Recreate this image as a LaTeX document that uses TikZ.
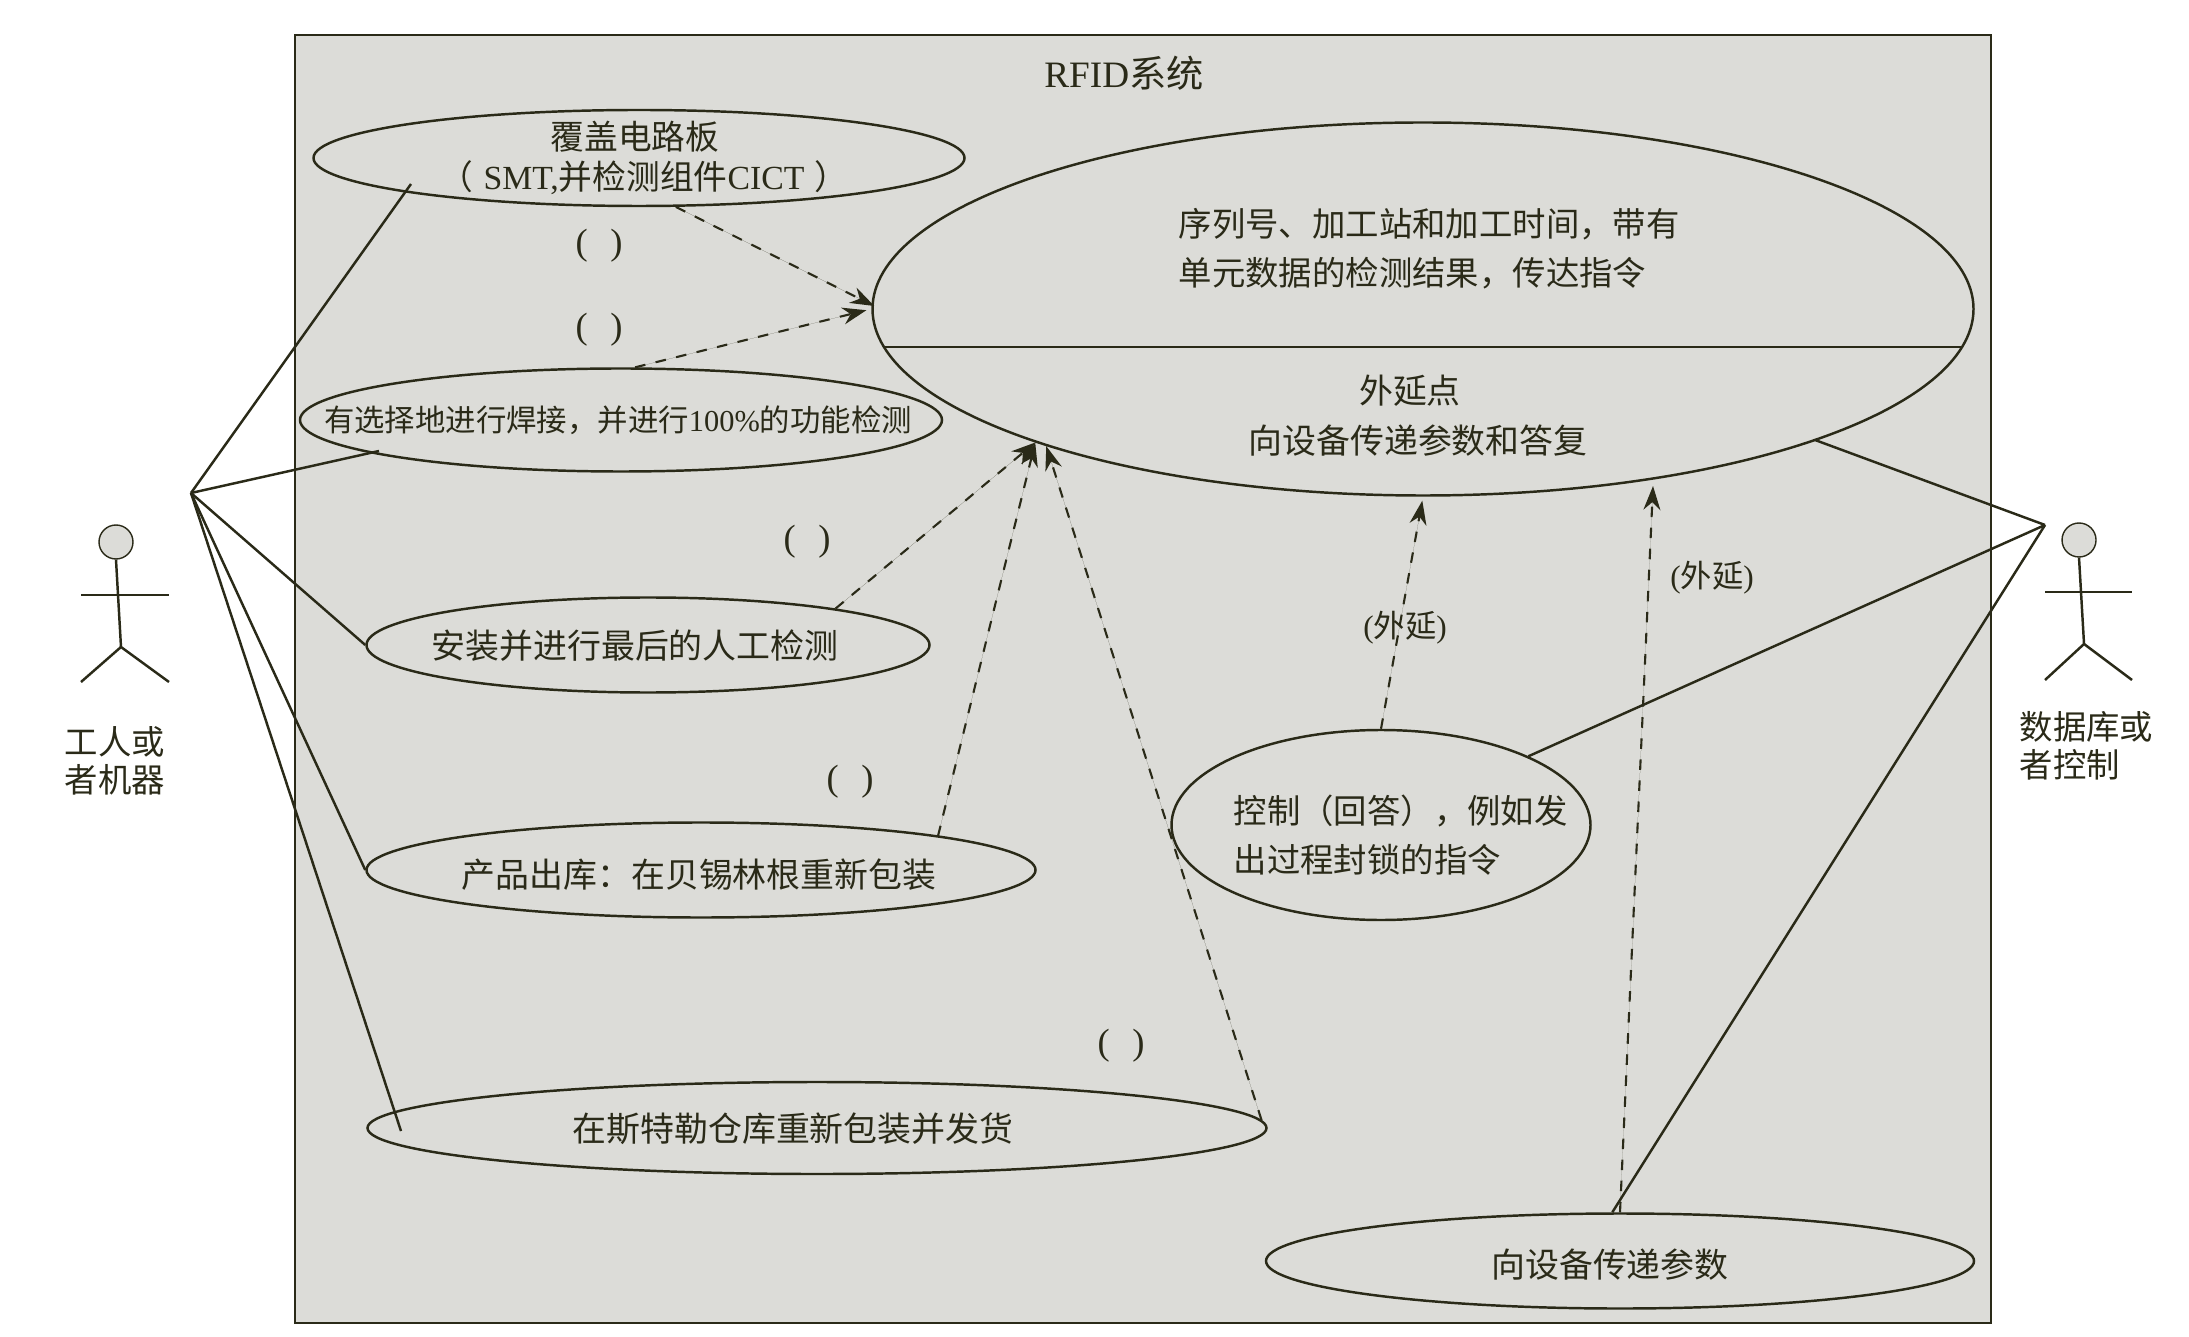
\documentclass[tikz,border=0pt]{standalone}
\usepackage{fontspec}
\setmainfont{Noto Sans CJK SC}
\newfontfamily\latinfont{Liberation Serif}
\usetikzlibrary{positioning,arrows.meta,shapes.geometric,calc}
\definecolor{sysG}{HTML}{DCDCD8}
\definecolor{inkD}{HTML}{2A2A18}
\newcommand{\blankpar}{{\latinfont\fontsize{10.4}{12}\selectfont(\hspace{0.62em})}}

\begin{document}
\begin{tikzpicture}[
  every node/.style={font=\fontsize{9.65}{14}\selectfont, text=inkD},
  usecase/.style={ellipse, draw=inkD, line width=0.7pt, inner sep=0pt},
  txt/.style={inner sep=0pt, align=left},
  actorhead/.style={circle, draw=inkD, thin, fill=sysG, minimum size=0.34cm, inner sep=0pt},
  line/.style={draw=inkD, line width=0.7pt},
  arr/.style={-{Stealth[length=2.4mm, width=1.7mm]}, draw=inkD, fill=inkD, line width=0.6pt, dashed}
]
  \useasboundingbox (0,0) rectangle (21.89,13.36);
  \draw[inkD, line width=0.7pt, fill=sysG] (2.95,0.13) rectangle (19.91,13.01);
  \node[txt, font=\fontsize{10.6}{14}\selectfont] (title) at (11.24,12.63) {{\latinfont RFID}系统};

  % use cases
  \node[usecase, minimum width=6.51cm, minimum height=0.96cm] (cover) at (6.39,11.78) {};
  \node[usecase, minimum width=6.42cm, minimum height=1.03cm] (solder) at (6.21,9.16) {};
  \node[usecase, minimum width=5.63cm, minimum height=0.95cm] (mount) at (6.48,6.91) {};
  \node[usecase, minimum width=6.69cm, minimum height=0.95cm] (outbound) at (7.01,4.66) {};
  \node[usecase, minimum width=8.99cm, minimum height=0.92cm] (ship) at (8.17,2.08) {};
  \node[usecase, minimum width=11.01cm, minimum height=3.73cm] (main) at (14.23,10.27) {};
  \node[usecase, minimum width=4.19cm, minimum height=1.90cm] (ctrl) at (13.81,5.11) {};
  \node[usecase, minimum width=7.08cm, minimum height=0.95cm] (param) at (16.20,0.75) {};

  \node[txt, align=center, font=\fontsize{9.6}{11.5}\selectfont] (coverT) at ($(cover)+(0.05,0.0)$)
    {覆盖电路板\hspace*{5.2pt}\\ （\hspace{0.3em}{\latinfont SMT,}并检测组件{\latinfont CICT}\hspace{0.3em}）};
  \node[txt, font=\fontsize{8.65}{11}\selectfont] (solderT) at ($(solder)+(-0.03,0)$) {有选择地进行焊接，并进行{\latinfont 100\%}的功能检测};
  \node[txt] (mountT) at ($(mount)+(-0.13,-0.01)$) {安装并进行最后的人工检测};
  \node[txt] (outboundT) at ($(outbound)+(-0.02,-0.05)$) {产品出库：在贝锡林根重新包装};
  \node[txt] (shipT) at ($(ship)+(-0.24,-0.01)$) {在斯特勒仓库重新包装并发货};
  \node[txt] (paramT) at ($(param)+(-0.10,-0.04)$) {向设备传递参数};
  \node[txt, anchor=west, font=\fontsize{9.5}{14}\selectfont] (mainT) at (11.78,10.87) {序列号、加工站和加工时间，带有\\ 单元数据的检测结果，传达指令};
  \node[txt] (extT) at (14.10,9.45) {外延点};
  \node[txt] (extB) at (14.18,8.95) {向设备传递参数和答复};
  \node[txt, anchor=west, font=\fontsize{9.5}{14}\selectfont] (ctrlT) at (12.33,5.01) {控制（回答），例如发\\ 出过程封锁的指令};
  \draw[line] (main.184) -- (main.-4);

  % actors
  \node[actorhead] (workerH) at (1.16,7.94) {};
  \coordinate (workerW) at (1.91,8.43);
  \coordinate (workerHip) at (1.21,6.89);
  \draw[line] (workerH.south) -- (workerHip);
  \draw[line] (0.81,7.41) -- (1.69,7.41);
  \draw[line] (0.81,6.54) -- (workerHip) -- (1.69,6.54);
  \node[txt, font=\fontsize{9.5}{10.8}\selectfont] (workerL) at (1.15,5.75) {工人或\\ 者机器};

  \node[actorhead] (dbH) at (20.79,7.96) {};
  \coordinate (dbW) at (20.45,8.11);
  \coordinate (dbHip) at (20.84,6.92);
  \draw[line] (dbH.south) -- (dbHip);
  \draw[line] (20.45,7.44) -- (21.32,7.44);
  \draw[line] (20.45,6.56) -- (dbHip) -- (21.32,6.56);
  \node[txt, anchor=west, font=\fontsize{9.5}{10.8}\selectfont] (dbL) at (20.19,5.90) {数据库或\\ 者控制};

  % associations
  \draw[line] (workerW) -- ($(cover.center)+(-2.28,-0.26)$);
  \draw[line] (workerW) -- ($(solder.center)+(-2.42,-0.31)$);
  \draw[line] (workerW) -- (mount.west);
  \draw[line] (workerW) -- (outbound.west);
  \draw[line] (workerW) -- ($(ship.center)+(-4.16,-0.03)$);
  \draw[line] (dbW) -- ($(main.center)+(3.92,-1.31)$);
  \draw[line] (dbW) -- (ctrl.25);
  \draw[line] (dbW) -- (param.99);

  % dependencies
  \draw[arr] (cover.-53) -- ($(main.west)+(0.03,0.03)$);
  \draw[arr, shorten >=0.05cm] (solder.75) -- (main.west);
  \draw[arr] (mount.11) -- (main.199);
  \draw[arr] ($(outbound.center)+(2.37,0.34)$) -- (main.199);
  \draw[arr] (ship.1) -- (main.200);
  \draw[arr, shorten >=0.04cm] (ctrl.north) -- (main.south);
  \draw[arr] (param.north) -- ($(main.center)+(2.30,-1.77)$);

  \node[txt] (p1) at (5.99,10.90) {\blankpar};
  \node[txt] (p2) at (5.99,10.06) {\blankpar};
  \node[txt] (p3) at (8.07,7.94) {\blankpar};
  \node[txt] (p4) at (8.50,5.54) {\blankpar};
  \node[txt] (p5) at (11.21,2.90) {\blankpar};
  \node[txt, font=\fontsize{8.9}{11}\selectfont] (ext1) at (14.05,7.08) {{\latinfont(}外延{\latinfont)}};
  \node[txt, font=\fontsize{8.9}{11}\selectfont] (ext2) at (17.12,7.58) {{\latinfont(}外延{\latinfont)}};
\end{tikzpicture}
\end{document}
